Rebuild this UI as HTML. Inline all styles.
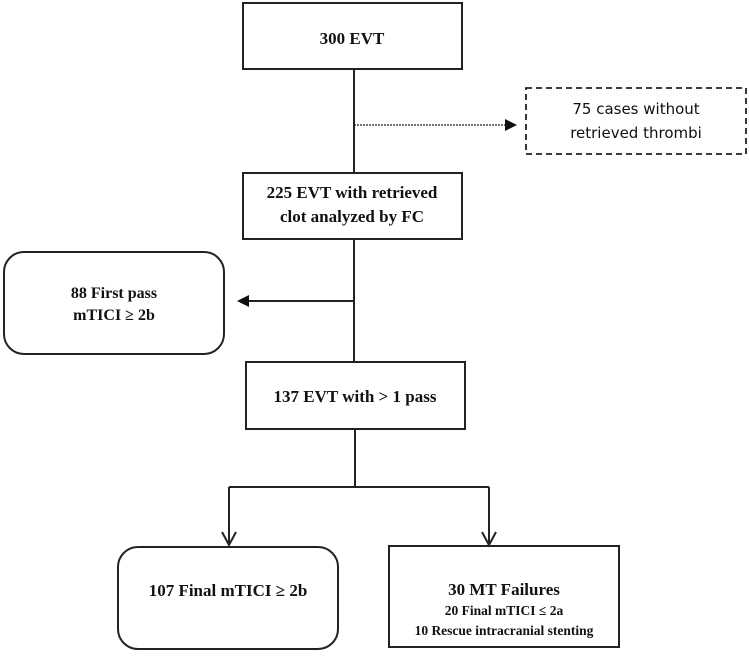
<!DOCTYPE html>
<html><head><meta charset="utf-8"><style>
body{margin:0;background:#fff;width:749px;height:653px;overflow:hidden}
svg text{font-family:"Liberation Serif",serif;font-weight:bold;fill:#111;text-anchor:middle}
</style></head><body>
<svg width="749" height="653" xmlns="http://www.w3.org/2000/svg">
<g fill="none" stroke="#222" stroke-width="2">
<rect x="243" y="3" width="219" height="66"/>
<rect x="243" y="173" width="219" height="66"/>
<rect x="246" y="362" width="219" height="67"/>
<rect x="526" y="88" width="220" height="66" stroke-dasharray="6,4" stroke-width="1.8"/>
<rect x="4" y="252" width="220" height="102" rx="20"/>
<rect x="118" y="547" width="220" height="102" rx="20"/>
<rect x="389" y="546" width="230" height="101"/>
<line x1="354" y1="69" x2="354" y2="173"/>
<line x1="354" y1="239" x2="354" y2="362"/>
<line x1="355" y1="429" x2="355" y2="487"/>
<line x1="229" y1="487" x2="489" y2="487"/>
<line x1="229" y1="487" x2="229" y2="545"/>
<line x1="489" y1="487" x2="489" y2="545"/>
<polyline points="222,532 229,545 236,532"/>
<polyline points="482,532 489,545 496,532"/>
<line x1="354" y1="301" x2="246" y2="301"/>
<line x1="354" y1="125" x2="505" y2="125" stroke-width="1.2" stroke-dasharray="2,1"/>
</g>
<polygon points="237,301 249,295 249,307" fill="#111"/>
<polygon points="517,125 505,119 505,131" fill="#111"/>
<text x="352" y="44" font-size="17">300 EVT</text>
<text x="352" y="198" font-size="17">225 EVT with retrieved</text>
<text x="352" y="222" font-size="17">clot analyzed by FC</text>
<text x="355" y="402" font-size="17">137 EVT with &gt; 1 pass</text>
<text x="114" y="298" font-size="16">88 First pass</text>
<text x="114" y="320" font-size="16">mTICI ≥ 2b</text>
<text x="228" y="596" font-size="17">107 Final mTICI ≥ 2b</text>
<text x="504" y="595" font-size="17">30 MT Failures</text>
<text x="504" y="615" font-size="13.5">20 Final mTICI ≤ 2a</text>
<text x="504" y="635" font-size="13.5">10 Rescue intracranial stenting</text>
<text x="636" y="114" font-size="15" style="font-family:'DejaVu Sans',sans-serif;font-weight:normal">75 cases  without</text>
<text x="636" y="138" font-size="15" style="font-family:'DejaVu Sans',sans-serif;font-weight:normal">retrieved  thrombi</text>
</svg>
</body></html>
